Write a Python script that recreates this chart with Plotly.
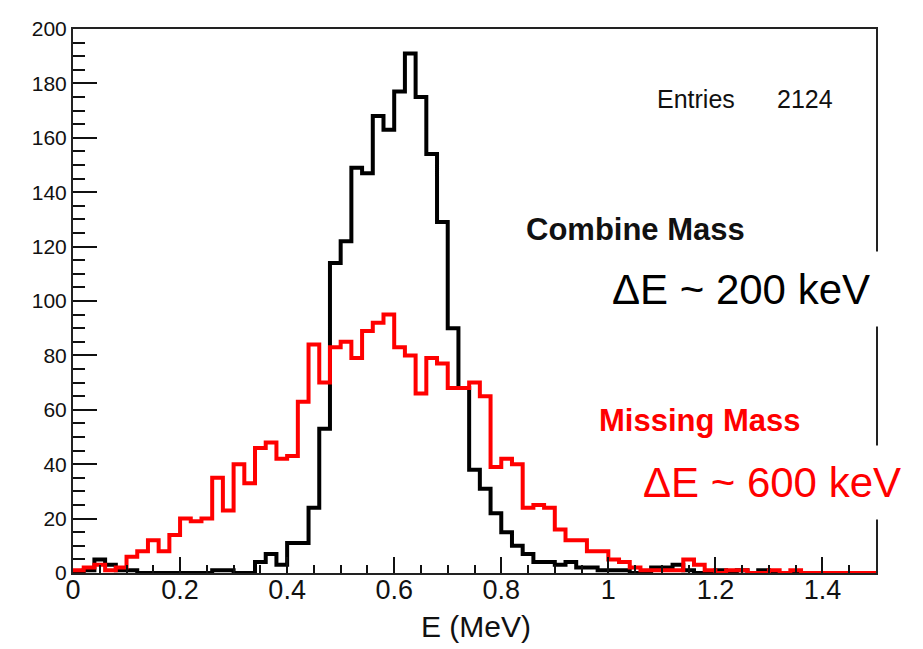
import plotly.graph_objects as go

# ---- data -------------------------------------------------------------
bin_start = 0.0
bin_width = 0.02
combine_counts = [0, 1, 5, 3, 1, 1, 0, 0, 0, 0,
                  0, 0, 0, 1, 1, 0, 0, 4, 7, 3,
                  11, 11, 24, 53, 114, 122, 149, 147, 168, 163,
                  177, 191, 175, 154, 129, 90, 68, 38, 31, 22,
                  15, 10, 7, 4, 4, 3, 4, 2, 2, 1,
                  1, 1, 0, 0, 2, 2, 3, 1, 0, 0,
                  1, 0, 1, 0, 1, 0, 0, 0, 0, 0,
                  0, 0, 0, 0, 0]
missing_counts = [1, 2, 3, 1, 2, 6, 8, 12, 8, 14,
                  20, 19, 20, 35, 23, 40, 33, 46, 48, 42,
                  43, 63, 84, 70, 83, 85, 79, 89, 92, 95,
                  83, 80, 66, 79, 77, 68, 68, 70, 65, 39,
                  42, 40, 24, 25, 24, 16, 12, 12, 8, 8,
                  5, 4, 2, 1, 1, 1, 1, 5, 3, 1,
                  0, 1, 1, 0, 0, 1, 0, 1, 0, 0,
                  0, 0, 0, 0, 0]
x_tickvals = [0, 0.2, 0.4, 0.6, 0.8, 1.0, 1.2, 1.4]
x_ticktext = ["0", "0.2", "0.4", "0.6", "0.8", "1", "1.2", "1.4"]
y_tickvals = [0, 20, 40, 60, 80, 100, 120, 140, 160, 180, 200]
entries_label = "Entries"
entries_value = "2124"

# ---- layout geometry (pixels) ----------------------------------------
W, H = 923, 649
L, R, T, B = 73, 47, 29, 76
PW, PH = W - L - R, H - T - B


def px(x):
    return (x - L) / PW


def py(y):
    return (H - B - y) / PH


def edges(n):
    return [bin_start + i * bin_width for i in range(n + 1)]


FONT = "Liberation Sans, Arial, sans-serif"

fig = go.Figure()
for counts, color in ((combine_counts, "black"), (missing_counts, "#ff0000")):
    fig.add_trace(go.Scatter(
        x=edges(len(counts)),
        y=counts + [counts[-1]],
        mode="lines",
        line=dict(color=color, width=4, shape="hv"),
        hoverinfo="skip",
        showlegend=False,
    ))

fig.update_layout(
    width=W, height=H,
    margin=dict(l=L, r=R, t=T, b=B, pad=0),
    paper_bgcolor="white", plot_bgcolor="white",
    font=dict(family=FONT, color="#111"),
    xaxis=dict(
        range=[0, 1.5], tickvals=x_tickvals, ticktext=x_ticktext,
        ticks="inside", ticklen=16, tickwidth=1.5, tickcolor="#111",
        minor=dict(ticks="inside", ticklen=8, dtick=0.05, tickwidth=1.5, tickcolor="#111"),
        showgrid=False, zeroline=False,
        showline=True, linecolor="#222", linewidth=2, mirror=True,
        tickfont=dict(size=27, family=FONT, color="#111"),
        ticklabelstandoff=-8,
    ),
    yaxis=dict(
        range=[0, 200], tickvals=y_tickvals,
        ticks="inside", ticklen=24, tickwidth=1.5, tickcolor="#111",
        minor=dict(ticks="inside", ticklen=12, dtick=5, tickwidth=1.5, tickcolor="#111"),
        showgrid=False, zeroline=False,
        showline=True, linecolor="#222", linewidth=2, mirror=True,
        tickfont=dict(size=21, family=FONT, color="#111"),
    ),
)

ann = []
ann.append(dict(text="E (MeV)", x=px(476), y=py(626), font=dict(size=30, color="#111")))
ann.append(dict(text=entries_label, x=px(655), y=py(99), xanchor="left", font=dict(size=25, color="#111")))
ann.append(dict(text=entries_value, x=px(775), y=py(99), xanchor="left", font=dict(size=25, color="#111")))
ann.append(dict(text="<b>Combine Mass</b>", x=px(635), y=py(229), font=dict(size=31, color="#111")))
ann.append(dict(text="ΔE ~ 200 keV", x=px(741), y=py(289), width=290, height=72,
                bgcolor="white", font=dict(size=42, color="#000")))
ann.append(dict(text="<b>Missing Mass</b>", x=px(700), y=py(420), font=dict(size=31, color="#ff0000")))
ann.append(dict(text="ΔE ~ 600 keV", x=px(772), y=py(482), width=290, height=71,
                bgcolor="white", font=dict(size=42, color="#ff0000")))
for a in ann:
    a.setdefault("xanchor", "center")
    a.update(xref="paper", yref="paper", yanchor="middle", showarrow=False)
    a["font"]["family"] = FONT
fig.update_layout(annotations=ann)

fig.write_html("out.html")
